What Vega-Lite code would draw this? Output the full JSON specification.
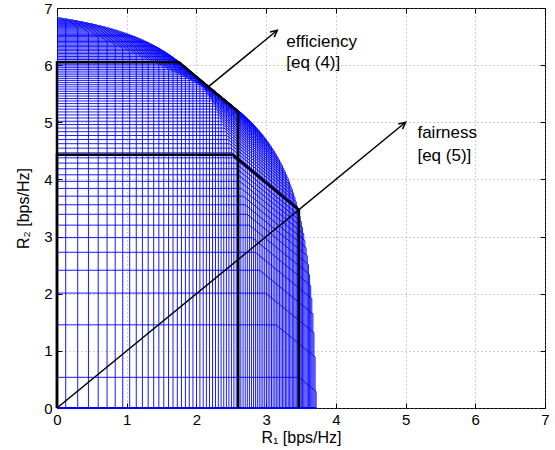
{
  "$schema": "https://vega.github.io/schema/vega-lite/v6.json",
  "width": 488,
  "height": 400,
  "autosize": {"type": "none"},
  "padding": {"left": 57, "top": 8, "right": 10, "bottom": 42},
  "background": "white",
  "config": {
    "view": {"stroke": "black", "strokeWidth": 1},
    "font": "Liberation Sans",
    "axis": {
      "domainColor": "black",
      "tickColor": "black",
      "labelColor": "black",
      "titleColor": "black",
      "labelFont": "Liberation Sans",
      "titleFont": "Liberation Sans",
      "labelFontSize": 15,
      "titleFontSize": 16,
      "titleFontWeight": "normal",
      "gridColor": "#888888",
      "gridDash": [1, 3],
      "gridOpacity": 0.8
    }
  },
  "datasets": {
    "regions": [
      {"z":0,"r1":0.125,"r2":6.829,"xa":0.058,"yb":6.762},
      {"z":0,"r1":0.297,"r2":6.812,"xa":0.143,"yb":6.658},
      {"z":0,"r1":0.451,"r2":6.796,"xa":0.223,"yb":6.567},
      {"z":0,"r1":0.591,"r2":6.779,"xa":0.299,"yb":6.487},
      {"z":0,"r1":0.718,"r2":6.762,"xa":0.371,"yb":6.415},
      {"z":0,"r1":0.835,"r2":6.744,"xa":0.440,"yb":6.350},
      {"z":0,"r1":0.943,"r2":6.727,"xa":0.506,"yb":6.290},
      {"z":0,"r1":1.043,"r2":6.709,"xa":0.568,"yb":6.235},
      {"z":0,"r1":1.137,"r2":6.691,"xa":0.629,"yb":6.183},
      {"z":0,"r1":1.225,"r2":6.673,"xa":0.686,"yb":6.134},
      {"z":0,"r1":1.308,"r2":6.655,"xa":0.742,"yb":6.089},
      {"z":0,"r1":1.387,"r2":6.636,"xa":0.796,"yb":6.045},
      {"z":0,"r1":1.461,"r2":6.617,"xa":0.847,"yb":6.003},
      {"z":0,"r1":1.532,"r2":6.598,"xa":0.897,"yb":5.963},
      {"z":0,"r1":1.600,"r2":6.579,"xa":0.945,"yb":5.925},
      {"z":0,"r1":1.664,"r2":6.559,"xa":0.992,"yb":5.887},
      {"z":0,"r1":1.726,"r2":6.540,"xa":1.037,"yb":5.851},
      {"z":0,"r1":1.785,"r2":6.519,"xa":1.081,"yb":5.815},
      {"z":0,"r1":1.842,"r2":6.499,"xa":1.124,"yb":5.781},
      {"z":0,"r1":1.897,"r2":6.478,"xa":1.165,"yb":5.747},
      {"z":0,"r1":1.950,"r2":6.457,"xa":1.206,"yb":5.713},
      {"z":0,"r1":2.001,"r2":6.436,"xa":1.245,"yb":5.680},
      {"z":0,"r1":2.050,"r2":6.414,"xa":1.283,"yb":5.648},
      {"z":0,"r1":2.097,"r2":6.392,"xa":1.320,"yb":5.615},
      {"z":0,"r1":2.143,"r2":6.370,"xa":1.357,"yb":5.583},
      {"z":0,"r1":2.188,"r2":6.347,"xa":1.392,"yb":5.551},
      {"z":0,"r1":2.231,"r2":6.324,"xa":1.427,"yb":5.520},
      {"z":0,"r1":2.273,"r2":6.301,"xa":1.460,"yb":5.488},
      {"z":0,"r1":2.314,"r2":6.277,"xa":1.493,"yb":5.457},
      {"z":0,"r1":2.354,"r2":6.253,"xa":1.526,"yb":5.425},
      {"z":0,"r1":2.392,"r2":6.228,"xa":1.558,"yb":5.394},
      {"z":0,"r1":2.430,"r2":6.203,"xa":1.588,"yb":5.362},
      {"z":0,"r1":2.466,"r2":6.178,"xa":1.619,"yb":5.330},
      {"z":0,"r1":2.502,"r2":6.152,"xa":1.649,"yb":5.298},
      {"z":0,"r1":2.537,"r2":6.125,"xa":1.678,"yb":5.266},
      {"z":0,"r1":2.571,"r2":6.099,"xa":1.707,"yb":5.234},
      {"z":0,"r1":2.604,"r2":6.071,"xa":1.735,"yb":5.201},
      {"z":0,"r1":2.637,"r2":6.043,"xa":1.762,"yb":5.169},
      {"z":0,"r1":2.669,"r2":6.015,"xa":1.789,"yb":5.135},
      {"z":0,"r1":2.700,"r2":5.986,"xa":1.816,"yb":5.102},
      {"z":0,"r1":2.730,"r2":5.956,"xa":1.842,"yb":5.068},
      {"z":0,"r1":2.760,"r2":5.926,"xa":1.868,"yb":5.034},
      {"z":0,"r1":2.789,"r2":5.895,"xa":1.894,"yb":4.999},
      {"z":0,"r1":2.818,"r2":5.863,"xa":1.919,"yb":4.964},
      {"z":0,"r1":2.846,"r2":5.831,"xa":1.943,"yb":4.928},
      {"z":0,"r1":2.874,"r2":5.798,"xa":1.967,"yb":4.891},
      {"z":0,"r1":2.901,"r2":5.764,"xa":1.991,"yb":4.854},
      {"z":0,"r1":2.927,"r2":5.729,"xa":2.015,"yb":4.817},
      {"z":0,"r1":2.953,"r2":5.694,"xa":2.038,"yb":4.778},
      {"z":0,"r1":2.979,"r2":5.657,"xa":2.061,"yb":4.739},
      {"z":0,"r1":3.004,"r2":5.620,"xa":2.084,"yb":4.699},
      {"z":0,"r1":3.029,"r2":5.581,"xa":2.106,"yb":4.659},
      {"z":0,"r1":3.053,"r2":5.542,"xa":2.128,"yb":4.617},
      {"z":0,"r1":3.077,"r2":5.502,"xa":2.150,"yb":4.574},
      {"z":0,"r1":3.100,"r2":5.460,"xa":2.171,"yb":4.531},
      {"z":0,"r1":3.124,"r2":5.417,"xa":2.193,"yb":4.486},
      {"z":0,"r1":3.146,"r2":5.373,"xa":2.214,"yb":4.440},
      {"z":0,"r1":3.169,"r2":5.327,"xa":2.235,"yb":4.393},
      {"z":0,"r1":3.191,"r2":5.280,"xa":2.255,"yb":4.344},
      {"z":0,"r1":3.213,"r2":5.231,"xa":2.276,"yb":4.295},
      {"z":0,"r1":3.234,"r2":5.181,"xa":2.296,"yb":4.243},
      {"z":0,"r1":3.255,"r2":5.129,"xa":2.316,"yb":4.190},
      {"z":0,"r1":3.276,"r2":5.075,"xa":2.336,"yb":4.135},
      {"z":0,"r1":3.296,"r2":5.018,"xa":2.356,"yb":4.078},
      {"z":0,"r1":3.317,"r2":4.960,"xa":2.376,"yb":4.019},
      {"z":0,"r1":3.337,"r2":4.899,"xa":2.396,"yb":3.958},
      {"z":0,"r1":3.356,"r2":4.835,"xa":2.416,"yb":3.894},
      {"z":0,"r1":3.376,"r2":4.768,"xa":2.436,"yb":3.828},
      {"z":0,"r1":3.395,"r2":4.698,"xa":2.455,"yb":3.759},
      {"z":0,"r1":3.414,"r2":4.625,"xa":2.475,"yb":3.686},
      {"z":0,"r1":3.432,"r2":4.547,"xa":2.495,"yb":3.610},
      {"z":0,"r1":3.451,"r2":4.465,"xa":2.515,"yb":3.530},
      {"z":0,"r1":3.469,"r2":4.378,"xa":2.536,"yb":3.445},
      {"z":0,"r1":3.487,"r2":4.286,"xa":2.557,"yb":3.356},
      {"z":0,"r1":3.505,"r2":4.187,"xa":2.578,"yb":3.260},
      {"z":0,"r1":3.522,"r2":4.081,"xa":2.599,"yb":3.159},
      {"z":0,"r1":3.539,"r2":3.967,"xa":2.622,"yb":3.050},
      {"z":0,"r1":3.556,"r2":3.843,"xa":2.645,"yb":2.932},
      {"z":0,"r1":3.573,"r2":3.707,"xa":2.670,"yb":2.804},
      {"z":0,"r1":3.590,"r2":3.557,"xa":2.697,"yb":2.664},
      {"z":0,"r1":3.607,"r2":3.390,"xa":2.727,"yb":2.510},
      {"z":0,"r1":3.623,"r2":3.200,"xa":2.759,"yb":2.337},
      {"z":0,"r1":3.639,"r2":2.982,"xa":2.798,"yb":2.141},
      {"z":0,"r1":3.655,"r2":2.725,"xa":2.845,"yb":1.914},
      {"z":0,"r1":3.671,"r2":2.411,"xa":2.906,"yb":1.646},
      {"z":0,"r1":3.686,"r2":2.011,"xa":2.993,"yb":1.318},
      {"z":0,"r1":3.702,"r2":1.455,"xa":3.140,"yb":0.893},
      {"z":0,"r1":3.717,"r2":0.537,"xa":3.469,"yb":0.289}
    ],
    "black": [
      {"g":"efficiency","o":1,"x":0,"y":0},
      {"g":"efficiency","o":2,"x":0,"y":6.05},
      {"g":"efficiency","o":3,"x":1.75,"y":6.05},
      {"g":"efficiency","o":4,"x":2.6,"y":5.18},
      {"g":"efficiency","o":5,"x":2.6,"y":0},
      {"g":"fairness","o":1,"x":0,"y":0},
      {"g":"fairness","o":2,"x":0,"y":4.43},
      {"g":"fairness","o":3,"x":2.52,"y":4.43},
      {"g":"fairness","o":4,"x":3.47,"y":3.47},
      {"g":"fairness","o":5,"x":3.47,"y":0}
    ],
    "arrows": [
      {"g":"efficiency","o":1,"x":2.16,"y":5.61},
      {"g":"efficiency","o":2,"x":3.16,"y":6.61},
      {"g":"fairness","o":1,"x":0,"y":0},
      {"g":"fairness","o":2,"x":5.0,"y":5.0}
    ],
    "tips": [
      {"g":"efficiency","x":3.16,"y":6.61},
      {"g":"fairness","x":5.0,"y":5.0}
    ],
    "labels": [
      {"t":"efficiency","x":3.29,"y":6.41},
      {"t":"[eq (4)]","x":3.29,"y":6.04},
      {"t":"fairness","x":5.17,"y":4.81},
      {"t":"[eq (5)]","x":5.17,"y":4.41}
    ]
  },
  "resolve": {"axis": {"x": "independent", "y": "independent"}},
  "layer": [
    {
      "data": {"name": "regions"},
      "mark": {"type": "rule", "color": "#0000ff", "strokeWidth": 1, "opacity": 0.9},
      "encoding": {
        "x": {"field": "xa", "type": "quantitative",
              "scale": {"domain": [0, 7], "nice": false},
              "axis": {"title": "R₁ [bps/Hz]", "values": [0,1,2,3,4,5,6,7], "format": "d",
                       "grid": true, "tickSize": -5, "labelPadding": 9, "titlePadding": 2, "domain": false, "labelFlush": false}},
        "y": {"field": "r2", "type": "quantitative",
              "scale": {"domain": [0, 7], "nice": false},
              "axis": {"title": "R₂ [bps/Hz]", "values": [0,1,2,3,4,5,6,7], "format": "d",
                       "grid": true, "tickSize": -5, "labelPadding": 10, "titlePadding": 12, "domain": false, "labelFlush": false}},
        "x2": {"field": "r1"},
        "y2": {"field": "yb"}
      }
    },
    {
      "data": {"name": "regions"},
      "mark": {"type": "rule", "color": "#0000ff", "strokeWidth": 1, "opacity": 0.9},
      "encoding": {
        "x": {"field": "z", "type": "quantitative", "axis": null},
        "x2": {"field": "xa"},
        "y": {"field": "r2", "type": "quantitative", "axis": null}
      }
    },
    {
      "data": {"name": "regions"},
      "mark": {"type": "rule", "color": "#0000ff", "strokeWidth": 1, "opacity": 0.9},
      "encoding": {
        "x": {"field": "r1", "type": "quantitative", "axis": null},
        "y": {"field": "yb", "type": "quantitative", "axis": null},
        "y2": {"field": "z"}
      }
    },
    {
      "data": {"name": "regions"},
      "mark": {"type": "rule", "color": "#0000ff", "strokeWidth": 1.5},
      "encoding": {
        "x": {"field": "z", "type": "quantitative", "axis": null},
        "x2": {"field": "r1"},
        "y": {"field": "z", "type": "quantitative", "axis": null}
      }
    },
    {
      "data": {"name": "black"},
      "mark": {"type": "line", "color": "black", "strokeWidth": 2.5},
      "encoding": {
        "x": {"field": "x", "type": "quantitative", "axis": null},
        "y": {"field": "y", "type": "quantitative", "axis": null},
        "detail": {"field": "g", "type": "nominal"},
        "order": {"field": "o", "type": "quantitative"}
      }
    },
    {
      "data": {"name": "arrows"},
      "mark": {"type": "line", "color": "black", "strokeWidth": 1.5},
      "encoding": {
        "x": {"field": "x", "type": "quantitative", "axis": null},
        "y": {"field": "y", "type": "quantitative", "axis": null},
        "detail": {"field": "g", "type": "nominal"},
        "order": {"field": "o", "type": "quantitative"}
      }
    },
    {
      "data": {"name": "tips"},
      "mark": {"type": "point", "shape": "M-0.45,0.9L0,0L0.45,0.9", "filled": false,
               "stroke": "black", "strokeWidth": 1.5, "size": 220, "angle": 50.65, "opacity": 1},
      "encoding": {
        "x": {"field": "x", "type": "quantitative",
              "axis": {"orient": "top", "title": null, "labels": false, "grid": false, "domain": false,
                       "values": [0,1,2,3,4,5,6,7], "tickSize": -5}},
        "y": {"field": "y", "type": "quantitative",
              "axis": {"orient": "right", "title": null, "labels": false, "grid": false, "domain": false,
                       "values": [0,1,2,3,4,5,6,7], "tickSize": -5}}
      }
    },
    {
      "data": {"name": "labels"},
      "mark": {"type": "text", "align": "left", "baseline": "middle", "fontSize": 17,
               "font": "Liberation Sans", "color": "black"},
      "encoding": {
        "x": {"field": "x", "type": "quantitative", "axis": null},
        "y": {"field": "y", "type": "quantitative", "axis": null},
        "text": {"field": "t", "type": "nominal"}
      }
    }
  ]
}
